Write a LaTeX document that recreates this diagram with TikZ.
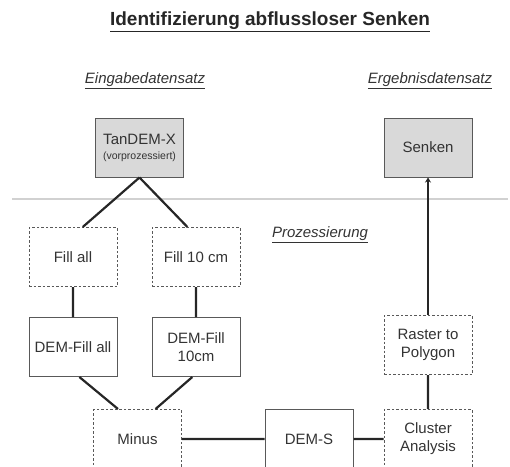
\documentclass[tikz,border=0pt]{standalone}
\usepackage{fontspec}
\setmainfont{Liberation Sans}
\usepackage{tikz}
\usetikzlibrary{arrows.meta}

\begin{document}
\begin{tikzpicture}[x=1pt,y=-1pt,>={Stealth[length=5pt,width=6pt]},node distance=90pt,
    box/.style={draw=black!65,line width=1pt,minimum width=88pt,minimum height=59pt,
      align=center,text=black!80,font=\fontsize{15}{18}\selectfont},
    tool/.style={box,dash pattern=on 2.5pt off 2pt},
    data/.style={box,fill=black!15},
    head/.style={text=black!80,font=\fontsize{15}{18}\selectfont\itshape},
    link/.style={line width=2.2pt,black!85}]
  \useasboundingbox (0,0) rectangle (510,466);
  \clip (0,0) rectangle (510,466);

  \node[text=black!85,font=\fontsize{19}{22}\selectfont\bfseries] (title) at (270,22) {\underline{Identifizierung abflussloser Senken}};
  \node[head] (input)  at (145,81) {\underline{Eingabedatensatz}};
  \node[head] (output) at (430,81) {\underline{Ergebnisdatensatz}};
  \node[head] (proc)   at (320,235) {\underline{Prozessierung}};

  \draw[black!18,line width=2pt] (12,199) -- (508,199);

  \node[data] (tandem) at (139.5,147.5) {TanDEM-X\\[-3pt]{\fontsize{10.5}{12}\selectfont(vorprozessiert)}};
  \node[data] (senken) at (428,147.5) {Senken};

  \node[tool] (fillall) at (73,257) {Fill all};
  \node[tool] (fill10)  at (196,257) {Fill 10 cm};
  \node[box]  (demall)  [below of=fillall] {DEM-Fill all};
  \node[box]  (dem10)   [below of=fill10] {DEM-Fill\\10cm};
  \node[tool] (minus)   at (137.5,439) {Minus};
  \node[box]  (dems)    at (309,439) {DEM-S};
  \node[tool] (cluster) at (428,439) {Cluster\\Analysis};
  \node[tool] (raster)  at (428,345) {Raster to\\Polygon};

  \draw[link] (tandem.south) -- (fillall.72)
              (tandem.south) -- (fill10.106)
              (fillall) -- (demall)
              (fill10) -- (dem10)
              (demall.-78) -- (minus.123)
              (dem10.-97) -- (minus.59)
              (minus) -- (dems)
              (dems) -- (cluster)
              (cluster) -- (raster);
  \draw[link,->] (raster) -- (senken);
\end{tikzpicture}
\end{document}
